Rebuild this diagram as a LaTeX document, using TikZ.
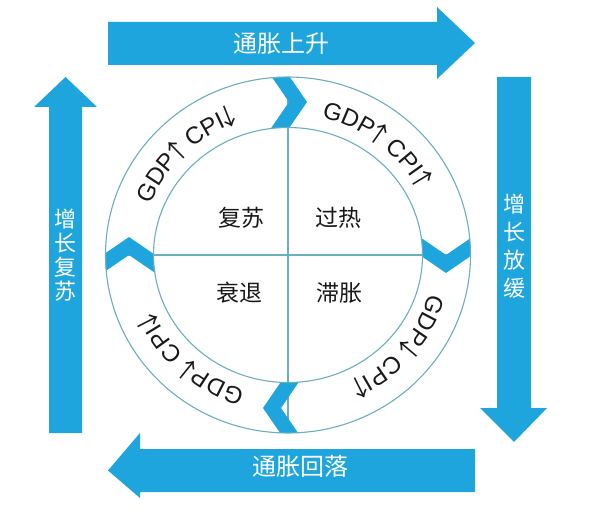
\documentclass[tikz,border=0pt]{standalone}
\usepackage{fontspec}
\usepackage{graphicx}
\setmainfont{Liberation Sans}
\newfontfamily\cjkfont{Noto Sans CJK SC}
\usetikzlibrary{decorations.text}
\definecolor{arrowblue}{RGB}{30,165,222}
\definecolor{ringline}{RGB}{105,175,190}
\definecolor{inkc}{RGB}{25,25,25}
\newcommand\ringtxtfont{\fontsize{24}{24}\selectfont}
\newcommand\tallup{\makebox[12.5pt][c]{\cjkfont ↑}}
\newcommand\talldn{\makebox[12.5pt][c]{\cjkfont ↓}}
\begin{document}
\begin{tikzpicture}[x=1pt,y=1pt,
  bigarrow/.style={fill=arrowblue, draw=none},
  chev/.style={fill=arrowblue, draw=none},
  ringc/.style={draw=ringline, line width=1.1pt},
  quad/.style={font=\cjkfont\fontsize{23}{23}\selectfont, text=inkc},
  arrowlbl/.style={font=\cjkfont\fontsize{24}{24}\selectfont, text=white},
  vlbl/.style={font=\cjkfont\fontsize{22}{24}\selectfont, text=white, align=center},
  ringtxt/.style={decorate, decoration={text along path, text align=center, text color=inkc, #1}}
]
\useasboundingbox (0,0) rectangle (591,507);
\fill[white] (0,0) rectangle (591,507);
\coordinate (c) at (288,252);

% big outer arrows
\fill[bigarrow] (108,442) -- (437,442) -- (437,428) -- (475,464) -- (437,500) -- (437,485) -- (108,485) -- cycle;
\fill[bigarrow] (497,430) -- (531,430) -- (531,99) -- (547,99) -- (514,65) -- (480,99) -- (497,99) -- cycle;
\fill[bigarrow] (475,15) -- (475,58) -- (140,58) -- (140,74) -- (108,36.5) -- (140,9) -- (140,15) -- cycle;
\fill[bigarrow] (49,74) -- (82,74) -- (82,400) -- (97,400) -- (65.5,430) -- (34,400) -- (49,400) -- cycle;

% quadrant lines
\draw[ringc] (288,74) -- (288,430);
\draw[ringc] (105.5,252) -- (470.5,252);

% chevrons in the ring
\begin{scope}[even odd rule]
\clip (c) ellipse [x radius=182.5, y radius=178] (c) ellipse [x radius=134.5, y radius=127.5];
\fill[chev, shift={(289,405)}, rotate=0] (-24,35) -- (0,0) -- (-24,-35) -- (-6,-35) -- (18,0) -- (-6,35) -- cycle;
\fill[chev, shift={(446,252)}, rotate=-90] (-24,35) -- (0,0) -- (-24,-35) -- (-6,-35) -- (18,0) -- (-6,35) -- cycle;
\fill[chev, shift={(281,99)}, rotate=180] (-24,35) -- (0,0) -- (-24,-35) -- (-6,-35) -- (18,0) -- (-6,35) -- cycle;
\fill[chev, shift={(129,252)}, rotate=90] (-24,35) -- (0,0) -- (-24,-35) -- (-6,-35) -- (18,0) -- (-6,35) -- cycle;
\end{scope}

% circles
\draw[ringc] (c) ellipse [x radius=182.5, y radius=178];
\draw[ringc] (c) ellipse [x radius=134.5, y radius=127.5];

% ring texts
\path[ringtxt={text={|\ringtxtfont|GDP{\tallup} CPI{\talldn}}}] (c) ++(180:147 and 141) arc[start angle=180, end angle=90, x radius=147, y radius=141];
\path[ringtxt={text={|\ringtxtfont|GDP{\tallup} CPI{\tallup}}}] (c) ++(97:147 and 141) arc[start angle=97, end angle=7, x radius=147, y radius=141];
\path[ringtxt={text={|\ringtxtfont|GDP{\talldn} CPI{\tallup}}}] (c) ++(5:147 and 141) arc[start angle=5, end angle=-85, x radius=147, y radius=141];
\path[ringtxt={text={|\ringtxtfont|GDP{\talldn} CPI{\talldn}}}] (c) ++(-87:147 and 141) arc[start angle=-87, end angle=-177, x radius=147, y radius=141];

% quadrant labels
\node[quad] (fs) at (241,289) {复苏};
\node[quad] (gr) at (338,289) {过热};
\node[quad] (st) at (239,214) {衰退};
\node[quad] (zz) at (339,214) {滞胀};

% arrow labels
\node[arrowlbl] (up) at (281,463) {通胀上升};
\node[arrowlbl] (down) at (300,41) {通胀回落};
\node[vlbl] (rec) at (65.5,252) {增\\长\\复\\苏};
\node[vlbl, font=\cjkfont\fontsize{22}{28}\selectfont] (slow) at (514,261) {增\\长\\放\\缓};
\end{tikzpicture}
\end{document}
